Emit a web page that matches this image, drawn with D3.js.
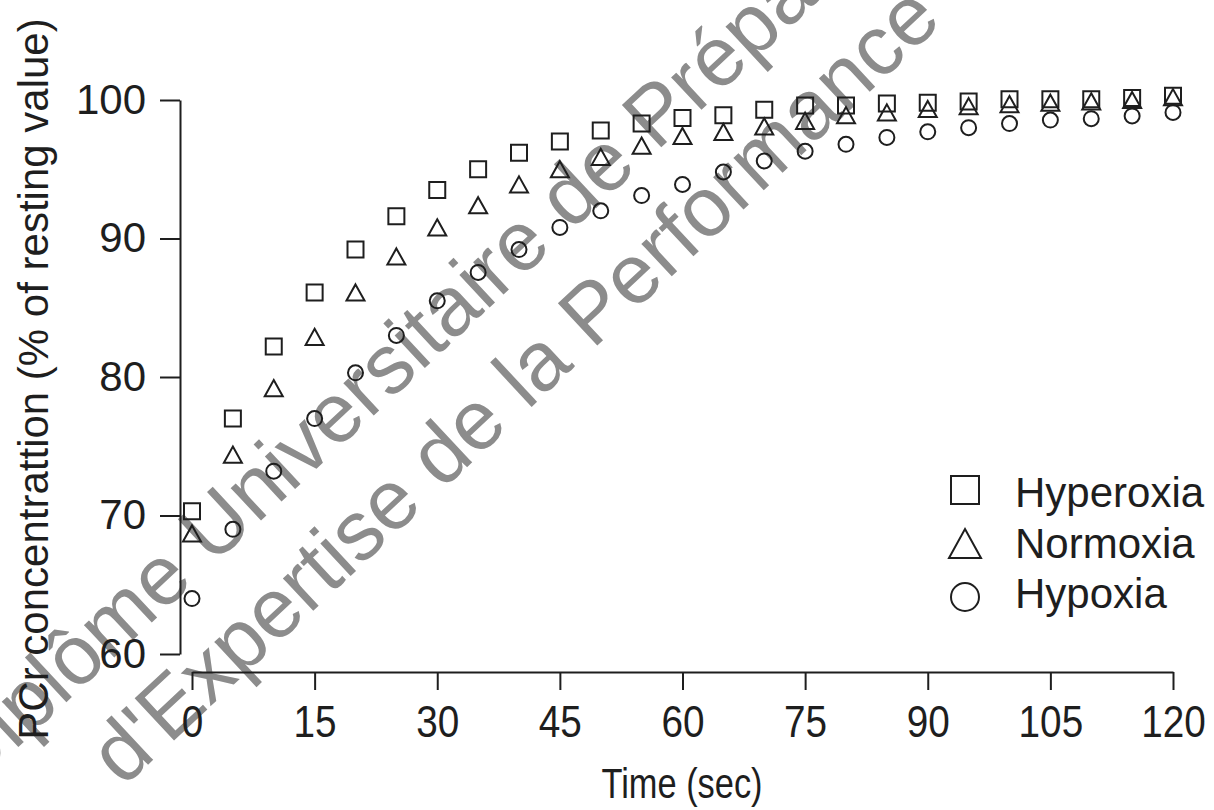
<!DOCTYPE html>
<html><head><meta charset="utf-8">
<script src="https://cdn.jsdelivr.net/npm/d3@7"></script>
<style>html,body{margin:0;padding:0;background:#fff;} svg{display:block;}</style>
</head><body>
<svg id="chart" width="1214" height="810"></svg>
<script>
// ---------- data ----------
const times = [0, 5, 10, 15, 20, 25, 30, 35, 40, 45, 50, 55, 60, 65, 70, 75, 80, 85, 90, 95, 100, 105, 110, 115, 120];
const hyperoxia = [70.3, 77.0, 82.2, 86.1, 89.2, 91.6, 93.5, 95.0, 96.2, 97.0, 97.8, 98.3, 98.7, 98.9, 99.3, 99.6, 99.6, 99.75, 99.8, 99.9, 100.05, 100.05, 100.05, 100.15, 100.3];
const normoxia = [68.7, 74.4, 79.2, 82.9, 86.1, 88.7, 90.8, 92.4, 93.9, 95.0, 95.9, 96.7, 97.4, 97.7, 98.1, 98.5, 98.9, 99.1, 99.35, 99.55, 99.7, 99.8, 99.9, 100.0, 100.2];
const hypoxia = [64.0, 69.0, 73.2, 77.0, 80.3, 83.0, 85.5, 87.55, 89.2, 90.8, 92.0, 93.1, 93.9, 94.8, 95.6, 96.3, 96.8, 97.3, 97.7, 98.0, 98.3, 98.55, 98.65, 98.85, 99.1];
const xTicks = [0, 15, 30, 45, 60, 75, 90, 105, 120];
const yTicks = [60, 70, 80, 90, 100];
const seriesNames = ["Hyperoxia", "Normoxia", "Hypoxia"];
const xTitle = "Time (sec)";
const yTitle = "PCr concentrattion (% of resting value)";
const watermarkLines = ["Diplôme Universitaire de Préparation Physique", "d'Expertise de la Performance"];

// ---------- setup ----------
const svg = d3.select("#chart");
const FONT = "'Liberation Sans', Arial, Helvetica, sans-serif";
const INK = "#1e1e1e";
const x = d3.scaleLinear().domain([0, 120]).range([192, 1173]);
const y = d3.scaleLinear().domain([60, 100]).range([654, 100]);

// watermark (beneath everything)
const wm = svg.append("g").attr("fill", "#8c8c8c")
  .style("font-family", FONT).style("font-size", "84px");
wm.append("text").attr("transform", "translate(-30,792) rotate(-43)").text(watermarkLines[0]);
wm.append("text").attr("transform", "translate(123,788) rotate(-43)").text(watermarkLines[1]);

// symbol types
const shapes = {
  square: { draw(ctx, size) { const s = Math.sqrt(size) / 2; ctx.moveTo(-s, -s); ctx.lineTo(s, -s); ctx.lineTo(s, s); ctx.lineTo(-s, s); ctx.closePath(); } },
  triangle: { draw(ctx, size) { const w = Math.sqrt(size) / 2; const h = w * 0.9; ctx.moveTo(0, -h); ctx.lineTo(w, h); ctx.lineTo(-w, h); ctx.closePath(); } },
  circle: d3.symbolCircle
};
const series = [
  { name: seriesNames[0], values: hyperoxia, shape: shapes.square, size: 256, legendSize: 784 },
  { name: seriesNames[1], values: normoxia, shape: shapes.triangle, size: 324, legendSize: 1024 },
  { name: seriesNames[2], values: hypoxia, shape: shapes.circle, size: Math.PI * 7.5 * 7.5, legendSize: Math.PI * 14 * 14 }
];

// ---------- axes ----------
const gy = svg.append("g").attr("transform", "translate(180,0)")
  .call(d3.axisLeft(y).tickValues(yTicks).tickSize(20).tickSizeOuter(0).tickPadding(14));
gy.select(".domain").attr("stroke", INK).attr("stroke-width", 2);
gy.selectAll(".tick line").attr("stroke", INK).attr("stroke-width", 2);
gy.selectAll(".tick text").attr("fill", INK).style("font-family", FONT).style("font-size", "42px");

const gx = svg.append("g").attr("transform", "translate(0,672)")
  .call(d3.axisBottom(x).tickValues(xTicks).tickSize(18).tickSizeOuter(0));
gx.select(".domain").attr("stroke", INK).attr("stroke-width", 2);
gx.selectAll(".tick line").attr("stroke", INK).attr("stroke-width", 2);
gx.selectAll(".tick text").attr("fill", INK).attr("y", 65).attr("dy", 0)
  .attr("transform", "scale(0.88,1)")
  .style("font-family", FONT).style("font-size", "44px");

svg.append("text").attr("transform", "translate(682,798) scale(0.8,1)").attr("text-anchor", "middle")
  .attr("fill", INK).style("font-family", FONT).style("font-size", "43px").text(xTitle);
svg.append("text").attr("transform", "translate(48,379) rotate(-90)").attr("text-anchor", "middle")
  .attr("fill", INK).style("font-family", FONT).style("font-size", "42px").text(yTitle);

// ---------- points ----------
series.forEach(s => {
  svg.append("g").selectAll("path")
    .data(times.map((t, i) => ({ t, v: s.values[i] })))
    .join("path")
    .attr("transform", d => `translate(${x(d.t)},${y(d.v)})`)
    .attr("d", d3.symbol(s.shape, s.size))
    .attr("fill", "none").attr("stroke", INK).attr("stroke-width", 2);
});

// ---------- legend ----------
const symY = d3.scalePoint().domain(seriesNames).range([490, 597]);
const txtY = d3.scalePoint().domain(seriesNames).range([507, 608]);
const lg = svg.append("g");
series.forEach(s => {
  lg.append("path").attr("transform", `translate(965,${symY(s.name)})`)
    .attr("d", d3.symbol(s.shape, s.legendSize))
    .attr("fill", "none").attr("stroke", INK).attr("stroke-width", 2);
  lg.append("text").attr("x", 1015).attr("y", txtY(s.name)).attr("fill", INK)
    .style("font-family", FONT).style("font-size", "42px").text(s.name);
});
</script>
</body></html>
